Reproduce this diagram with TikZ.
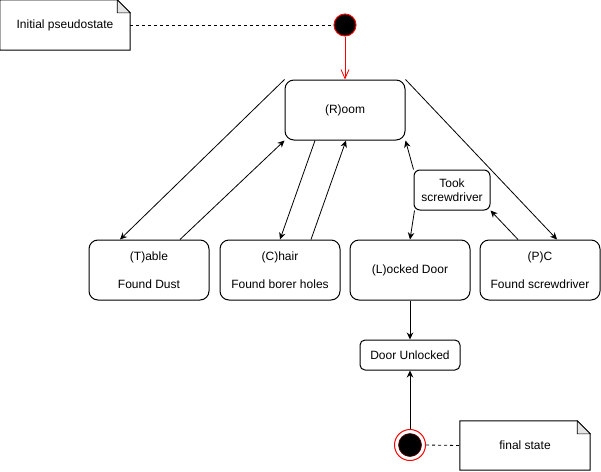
\documentclass[tikz,border=0pt]{standalone}
\usepackage{fontspec}
\setmainfont{Liberation Sans}
\usetikzlibrary{arrows.meta}

\begin{document}
\begin{tikzpicture}[x=1pt,y=-1pt,
  every node/.style={font=\fontsize{12}{14}\selectfont},
  state/.style={draw,line width=1pt,rounded corners=9pt,minimum width=120pt,
    minimum height=60pt,align=center,inner sep=0pt},
  smallstate/.style={draw,line width=1pt,rounded corners=6pt,align=center,inner sep=0pt},
  notebox/.style={minimum width=130pt,minimum height=50pt,inner sep=0pt},
  trans/.style={line width=0.8pt,-{Stealth[length=7pt,width=6.5pt]}},
  link/.style={line width=0.8pt,dashed}]
  \useasboundingbox (0,0) rectangle (601,471);
  % Initial pseudostate
  \node[notebox] (initnote) at (65,25) {Initial pseudostate};
  \draw[line width=1pt] (initnote.south west) -- (initnote.north west)
    -- ([xshift=-13pt]initnote.north east) -- ([yshift=-13pt]initnote.north east)
    -- (initnote.south east) -- cycle;
  \draw[line width=0.6pt,fill=black!10] ([xshift=-13pt]initnote.north east)
    -- ([xshift=-13pt,yshift=-13pt]initnote.north east)
    -- ([yshift=-13pt]initnote.north east) -- cycle;
  \node[circle,draw=red,fill=black,line width=1pt,minimum size=22pt,inner sep=0pt] (init) at (345,25) {};
  \draw[link] (initnote.east) -- (init.west);
  % States
  \node[state] (room) at (345,110) {(R)oom};
  \node[state] (table) at (149,270) {(T)able\\[14pt]Found Dust};
  \node[state] (chair) at (280,270) {(C)hair\\[14pt]Found borer holes};
  \node[state] (locked) at (410,270) {(L)ocked Door};
  \node[state] (pc) at (540,270) {(P)C\\[14pt]Found screwdriver};
  \node[smallstate,minimum width=76pt,minimum height=40pt] (took) at (452,190) {Took\\screwdriver};
  \node[smallstate,rounded corners=5pt,minimum width=100pt,minimum height=30pt] (unlocked) at (410,355) {Door Unlocked};
  % Final state
  \node[circle,draw=red,fill=white,line width=1pt,minimum size=31pt,inner sep=0pt] (final) at (410,445) {};
  \draw[red!40!black,fill=black,line width=0.6pt] (final.center) circle (11.5pt);
  \node[notebox,minimum height=49pt] (finalnote) at (525,445.5) {final state};
  \draw[line width=1pt] (finalnote.south west) -- (finalnote.north west)
    -- ([xshift=-13pt]finalnote.north east) -- ([yshift=-13pt]finalnote.north east)
    -- (finalnote.south east) -- cycle;
  \draw[line width=0.6pt,fill=black!10] ([xshift=-13pt]finalnote.north east)
    -- ([xshift=-13pt,yshift=-13pt]finalnote.north east)
    -- ([yshift=-13pt]finalnote.north east) -- cycle;
  \draw[link] (final.east) -- (finalnote.west);
  % Transitions
  \draw[red,line width=0.8pt,-{Straight Barb[length=9pt,width=8pt]}] (init.south) -- (room.north);
  \draw[trans] (room.north west) -- ([xshift=-29pt]table.north);
  \draw[trans] ([xshift=31pt]table.north) -- (room.south west);
  \draw[trans] ([xshift=-30pt]room.south) -- (chair.north);
  \draw[trans] ([xshift=31pt]chair.north) -- ([xshift=1pt]room.south);
  \draw[trans] (took.north west) -- (room.south east);
  \draw[trans] ([xshift=1pt]took.south west) -- (locked.north);
  \draw[trans] ([xshift=-22pt]pc.north) -- (took.south east);
  \draw[trans] (room.north east) -- ([xshift=17pt]pc.north);
  \draw[trans] (locked.south) -- (unlocked.north);
  \draw[trans] (final.north) -- (unlocked.south);
\end{tikzpicture}
\end{document}
